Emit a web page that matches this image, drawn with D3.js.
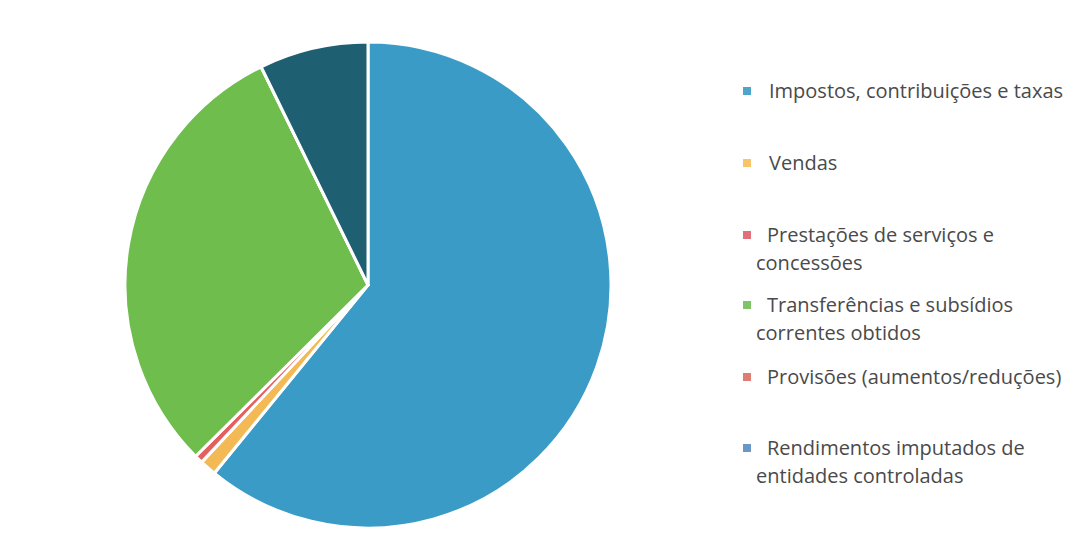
<!DOCTYPE html>
<html><head><meta charset="utf-8">
<script src="https://cdn.jsdelivr.net/npm/d3@7"></script>
<style>html,body{margin:0;padding:0;background:#fff;}svg{display:block;}</style>
</head><body>
<svg id="c" width="1081" height="542"></svg>
<script>
const categories = ["Impostos, contribuições e taxas","Vendas","Prestações de serviços e concessões","Transferências e subsídios correntes obtidos","Provisões (aumentos/reduções)","Rendimentos imputados de entidades controladas"];
const values = [60.9, 1.1, 0.55, 30.2, 0, 7.25];
const sliceColors = ["#3a9cc6","#f2b955","#e2605e","#6fbd4c","#e07d72","#1f5f72"];
const legendColors = ["#4ea4c9","#f7c46c","#e0707a","#80c46a","#e07d72","#6a96c8"];
const legendLines = [["Impostos, contribuições e taxas"],["Vendas"],["Prestações de serviços e","concessões"],["Transferências e subsídios","correntes obtidos"],["Provisões (aumentos/reduções)"],["Rendimentos imputados de","entidades controladas"]];

const svg = d3.select("#c");
const cx = 368, cy = 285, r = 243;
const pie = d3.pie().sort(null).value(d => d)(values);
const arc = d3.arc().innerRadius(0).outerRadius(r);
svg.append("g").attr("transform", `translate(${cx},${cy})`)
  .selectAll("path").data(pie).join("path")
  .attr("d", arc).attr("fill", (d,i) => sliceColors[i])
  .attr("stroke", "#fff").attr("stroke-width", 3).attr("stroke-linejoin","round");

const legY = [91, 163, 235, 305, 377, 448];
const lg = svg.append("g").attr("font-family","'Open Sans', sans-serif").attr("font-size", 20).attr("fill","#4a4a4a");
legendLines.forEach((lines,i) => {
  const y = legY[i];
  lg.append("rect").attr("x", 743).attr("y", y-4).attr("width", 8).attr("height", 8).attr("fill", legendColors[i]);
  lines.forEach((t,j) => {
    lg.append("text").attr("x", j===0 ? (lines.length>1||i>=4 ? 767 : 769) : 756)
      .attr("y", y + 7 + j*27.5).text(t);
  });
});
</script>
</body></html>
